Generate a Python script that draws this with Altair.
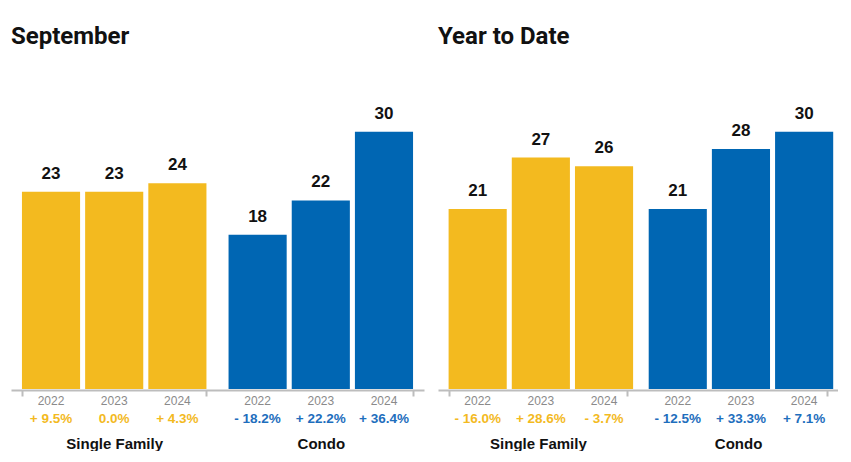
import altair as alt
import pandas as pd

groups = ["Single Family", "Condo"]
years = ["2022", "2023", "2024"]

sep_sf = [23, 23, 24]
sep_condo = [18, 22, 30]
sep_sf_pct = ["+ 9.5%", "0.0%", "+ 4.3%"]
sep_condo_pct = ["- 18.2%", "+ 22.2%", "+ 36.4%"]

ytd_sf = [21, 27, 26]
ytd_condo = [21, 28, 30]
ytd_sf_pct = ["- 16.0%", "+ 28.6%", "- 3.7%"]
ytd_condo_pct = ["- 12.5%", "+ 33.3%", "+ 7.1%"]

YELLOW = "#F3BA1F"
BLUE = "#0066B3"
PCT_YELLOW = "#F3BA1F"
PCT_BLUE = "#1E6EBD"
H = 300


def frame(sf, condo, sf_pct, condo_pct):
    rows = []
    for g, vals, pcts in [("Single Family", sf, sf_pct), ("Condo", condo, condo_pct)]:
        for y, v, p in zip(years, vals, pcts):
            rows.append({"group": g, "year": y, "value": v, "label": str(v), "pct": p})
    return pd.DataFrame(rows)


def panel(title, df, width, ymax):
    base = alt.Chart(df).encode(
        x=alt.X(
            "group:N",
            sort=groups,
            scale=alt.Scale(paddingInner=0.107, paddingOuter=0.053),
            axis=alt.Axis(
                title=None,
                labelAngle=0,
                labelPadding=40,
                labelFont="Liberation Sans",
                labelFontSize=15,
                labelFontWeight="bold",
                labelColor="#111111",
                domainColor="#BDBDBD",
                domainWidth=2,
                tickColor="#BDBDBD",
                tickWidth=2,
                tickSize=6,
                tickBand="extent",
                offset=1,
            ),
        ),
        xOffset=alt.XOffset("year:N", sort=years, scale=alt.Scale(paddingInner=0.08, paddingOuter=0)),
    )
    bars = base.mark_bar().encode(
        y=alt.Y("value:Q", scale=alt.Scale(domain=[0, ymax]), axis=None),
        color=alt.Color("group:N", scale=alt.Scale(domain=groups, range=[YELLOW, BLUE]), legend=None),
    )
    vals = base.mark_text(
        dy=-13, baseline="alphabetic", font="Liberation Sans", fontSize=17, fontWeight="bold", color="#111111"
    ).encode(y=alt.Y("value:Q"), text="label:N")
    yrs = base.mark_text(
        baseline="middle", font="Liberation Sans", fontSize=12, color="#8A8A8A"
    ).encode(y=alt.value(H + 12), text="year:N")
    pcts = base.mark_text(
        baseline="middle", font="Liberation Sans", fontSize=13.5, fontWeight="bold"
    ).encode(
        y=alt.value(H + 30),
        text="pct:N",
        color=alt.Color("group:N", scale=alt.Scale(domain=groups, range=[PCT_YELLOW, PCT_BLUE]), legend=None),
    )
    return alt.layer(bars, vals, yrs, pcts).properties(
        width=width,
        height=H,
        title=alt.TitleParams(
            title,
            anchor="start",
            font="Roboto",
            fontSize=24,
            fontWeight="bold",
            color="#111111",
            offset=40,
        ),
    ).resolve_scale(color="independent")


left = panel("September", frame(sep_sf, sep_condo, sep_sf_pct, sep_condo_pct), 413, 34.35)
right = panel("Year to Date", frame(ytd_sf, ytd_condo, ytd_sf_pct, ytd_condo_pct), 400, 33.45)

chart = alt.hconcat(left, right, spacing=14).properties(
    padding={"left": 11, "top": 25, "right": 0, "bottom": 0},
    background="white",
).configure_view(stroke=None)

chart.save("out.html", embed_options={"renderer": "svg", "actions": False})
